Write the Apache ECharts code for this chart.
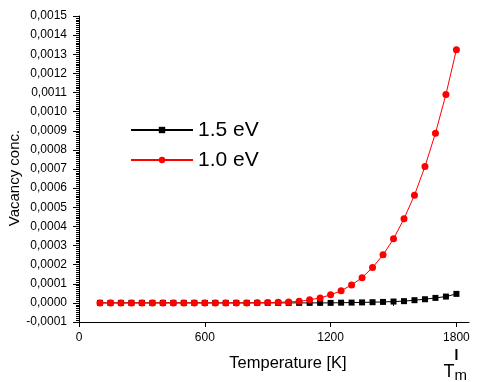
<!DOCTYPE html>
<html>
<head>
<meta charset="utf-8">
<script src="https://cdn.jsdelivr.net/npm/echarts@6/dist/echarts.min.js"></script>
<style>html,body{margin:0;padding:0;background:#fff;}#c{width:478px;height:382px;}</style>
</head>
<body>
<div id="c"></div>
<script>
// Temperatures [K]
const temperatures = [100,150,200,250,300,350,400,450,500,550,600,650,700,750,800,850,900,950,1000,1050,1100,1150,1200,1250,1300,1350,1400,1450,1500,1550,1600,1650,1700,1750,1800];
// Vacancy concentration, E = 1.5 eV
const conc15 = [0,0,0,0,0,0,0,0,0,0,0,0,0,0,0,0,0,0,0,0,0,0,0,0.000001,0.0000015,0.0000025,0.0000035,0.000005,0.000007,0.000009,0.000014,0.000019,0.000026,0.000033,0.000047];
// Vacancy concentration, E = 1.0 eV
const conc10 = [0,0,0,0,0,0,0,0,0,0,0,0,0,0,0,0.000001,0.000002,0.000003,0.000005,0.000008,0.000016,0.000026,0.000042,0.000063,0.000094,0.000132,0.000185,0.000251,0.000335,0.00044,0.000563,0.000713,0.000887,0.00109,0.001324];
const seriesNames = ['1.5 eV', '1.0 eV'];
const xMajorTicks = [0, 600, 1200, 1800];
const xMinorTicks = [300, 900, 1500];
const xAxisTitle = 'Temperature [K]';
const yAxisTitle = 'Vacancy conc.';
const meltLabel = ['T', 'm'];
const meltTemp = 1800;

const FONT = '"Liberation Sans", Arial, sans-serif';
const chart = echarts.init(document.getElementById('c'), null, {renderer: 'canvas'});
const toPairs = (xs, ys) => xs.map((x, i) => [x, ys[i]]);
const fmtY = v => (Math.abs(v) < 1e-9 ? 0 : v).toFixed(4).replace('.', ',');

chart.setOption({
  backgroundColor: '#fff',
  animation: false,
  grid: {left: 79, right: 9, top: 16, bottom: 60, containLabel: false, outerBoundsMode: 'none'},
  legend: {
    orient: 'vertical', left: 130, top: 119, padding: 0,
    itemWidth: 62, itemHeight: 8, itemGap: 8,
    textStyle: {fontFamily: FONT, fontSize: 21, color: '#000', lineHeight: 22},
    data: seriesNames
  },
  xAxis: [{
    type: 'value', min: 0, max: 1860, position: 'bottom',
    name: xAxisTitle, nameLocation: 'middle', nameGap: 33, nameMoveOverlap: false,
    nameTextStyle: {fontFamily: FONT, fontSize: 16.5, color: '#000', padding: [0, 0, 0, 28]},
    axisLine: {show: true, onZero: false, lineStyle: {color: '#000', width: 1}},
    axisTick: {show: true, length: 5, customValues: xMajorTicks, lineStyle: {color: '#000'}},
    axisLabel: {customValues: xMajorTicks, formatter: v => String(v), fontFamily: FONT, fontSize: 12, color: '#000', margin: 10},
    splitLine: {show: false}
  }, {
    type: 'value', min: 0, max: 1860, position: 'bottom',
    axisLine: {show: false},
    axisTick: {show: true, length: 3, customValues: xMinorTicks, lineStyle: {color: '#000'}},
    axisLabel: {show: false},
    splitLine: {show: false}
  }],
  yAxis: {
    type: 'value', min: -0.0001, max: 0.0015, interval: 0.0001,
    name: yAxisTitle, nameLocation: 'middle', nameGap: 57, nameMoveOverlap: false,
    nameTextStyle: {fontFamily: FONT, fontSize: 15, color: '#000', padding: [0, 18, 0, 0]},
    axisLine: {show: true, onZero: false, lineStyle: {color: '#000', width: 1}},
    axisTick: {show: true, length: 6, lineStyle: {color: '#000'}},
    minorTick: {show: true, splitNumber: 10, length: 3, lineStyle: {color: '#000'}},
    axisLabel: {formatter: fmtY, fontFamily: FONT, fontSize: 12, color: '#000', margin: 12},
    splitLine: {show: false}
  },
  series: [{
    name: seriesNames[0], type: 'line', data: toPairs(temperatures, conc15),
    symbol: 'rect', symbolSize: 6, showAllSymbol: true,
    lineStyle: {color: '#000', width: 1}, itemStyle: {color: '#000'}, z: 2
  }, {
    name: seriesNames[1], type: 'line', data: toPairs(temperatures, conc10),
    symbol: 'circle', symbolSize: 7, showAllSymbol: true,
    lineStyle: {color: '#ff0000', width: 1}, itemStyle: {color: '#ff0000'}, z: 3
  }]
});

const px = chart.convertToPixel({xAxisIndex: 0}, meltTemp);
const py = chart.convertToPixel({yAxisIndex: 0}, -0.0001);
chart.setOption({
  graphic: [
    {type: 'line', shape: {x1: px, y1: py + 27, x2: px, y2: py + 38}, style: {stroke: '#000', lineWidth: 2}},
    {type: 'text', x: px - 2, y: py + 50, style: {text: meltLabel[0], font: '18px ' + FONT, fill: '#000', textAlign: 'right', textVerticalAlign: 'middle'}},
    {type: 'text', x: px - 2, y: py + 54, style: {text: meltLabel[1], font: '15px ' + FONT, fill: '#000', textAlign: 'left', textVerticalAlign: 'middle'}}
  ]
});
</script>
</body>
</html>
